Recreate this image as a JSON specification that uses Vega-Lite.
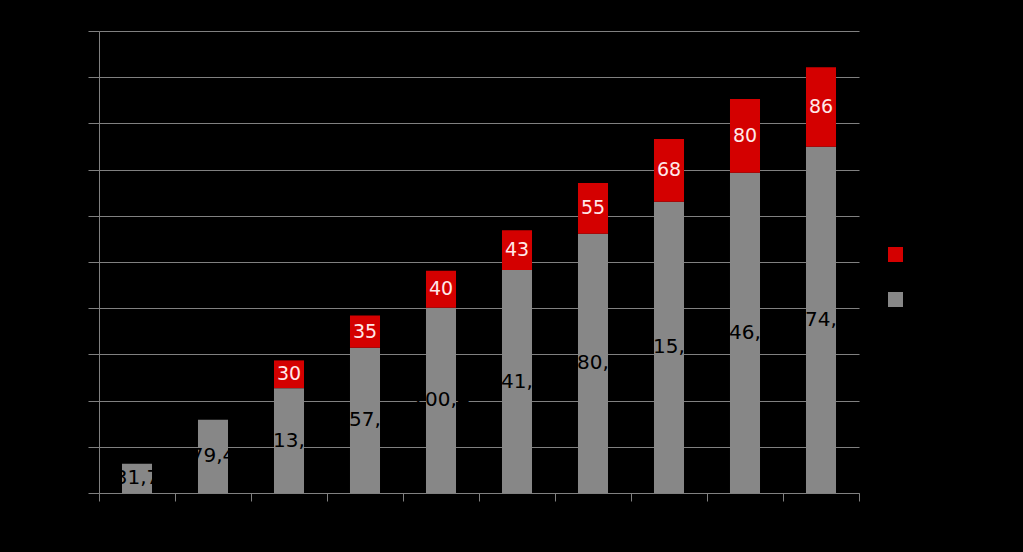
{
  "$schema": "https://vega.github.io/schema/vega-lite/v6.json",
  "width": 760,
  "height": 462,
  "autosize": {"type": "none"},
  "padding": {"left": 99, "top": 31, "right": 164, "bottom": 59},
  "background": "#000000",
  "config": {
    "view": {"stroke": null},
    "font": "DejaVu Sans",
    "locale": {"number": {"decimal": ",", "thousands": ".", "grouping": [3], "currency": ["", " €"]}},
    "axis": {"labelColor": "#000000", "titleColor": "#000000", "domainColor": "#808080", "tickColor": "#808080", "gridColor": "#808080", "labelFont": "DejaVu Sans"}
  },
  "data": {
    "values": [
      {"cat": "2010", "serie": "Serie 1", "value": 31.7},
      {"cat": "2011", "serie": "Serie 1", "value": 79.4},
      {"cat": "2012", "serie": "Serie 1", "value": 113.5},
      {"cat": "2012", "serie": "Serie 2", "value": 30},
      {"cat": "2013", "serie": "Serie 1", "value": 157.2},
      {"cat": "2013", "serie": "Serie 2", "value": 35},
      {"cat": "2014", "serie": "Serie 1", "value": 200.4},
      {"cat": "2014", "serie": "Serie 2", "value": 40},
      {"cat": "2015", "serie": "Serie 1", "value": 241.3},
      {"cat": "2015", "serie": "Serie 2", "value": 43},
      {"cat": "2016", "serie": "Serie 1", "value": 280.6},
      {"cat": "2016", "serie": "Serie 2", "value": 55},
      {"cat": "2017", "serie": "Serie 1", "value": 315.2},
      {"cat": "2017", "serie": "Serie 2", "value": 68},
      {"cat": "2018", "serie": "Serie 1", "value": 346.5},
      {"cat": "2018", "serie": "Serie 2", "value": 80},
      {"cat": "2019", "serie": "Serie 1", "value": 374.8},
      {"cat": "2019", "serie": "Serie 2", "value": 86}
    ]
  },
  "transform": [
    {"stack": "value", "groupby": ["cat"], "sort": [{"field": "serie", "order": "ascending"}], "as": ["y0", "y1"]},
    {"calculate": "(datum.y0 + datum.y1) / 2", "as": "ymid"}
  ],
  "encoding": {
    "x": {
      "field": "cat",
      "type": "nominal",
      "sort": null,
      "scale": {"paddingInner": 0, "paddingOuter": 0},
      "axis": {"title": null, "tickBand": "extent", "tickSize": 8, "labelAngle": 0, "labelFontSize": 14, "labelPadding": 8, "grid": false}
    }
  },
  "layer": [
    {
      "mark": {"type": "bar", "strokeWidth": 0, "width": {"band": 0.395}},
      "encoding": {
        "y": {
          "field": "y0",
          "type": "quantitative",
          "scale": {"domain": [0, 500], "nice": false},
          "axis": {"title": null, "values": [0, 50, 100, 150, 200, 250, 300, 350, 400, 450, 500], "tickSize": 11, "grid": true, "labelFontSize": 14, "labelPadding": 6}
        },
        "y2": {"field": "y1"},
        "color": {
          "field": "serie",
          "type": "nominal",
          "scale": {"domain": ["Serie 2", "Serie 1"], "range": ["#d40000", "#878787"]},
          "legend": {
            "title": null,
            "orient": "none",
            "legendX": 789,
            "legendY": 216,
            "symbolType": "square",
            "symbolSize": 225,
            "symbolStrokeWidth": 0,
            "symbolOpacity": 1,
            "labelColor": "#000000",
            "labelFontSize": 14,
            "rowPadding": 30
          }
        }
      }
    },
    {
      "transform": [{"filter": "datum.serie === 'Serie 1'"}],
      "mark": {"type": "text", "color": "#000000", "fontSize": 20, "baseline": "middle", "align": "center"},
      "encoding": {
        "y": {"field": "ymid", "type": "quantitative"},
        "text": {"field": "value", "type": "quantitative", "format": ".1f"}
      }
    },
    {
      "transform": [{"filter": "datum.serie === 'Serie 2'"}],
      "mark": {"type": "text", "color": "#ffe8e8", "fontSize": 19, "baseline": "middle", "align": "center"},
      "encoding": {
        "y": {"field": "ymid", "type": "quantitative"},
        "text": {"field": "value", "type": "quantitative", "format": ".0f"}
      }
    }
  ]
}
